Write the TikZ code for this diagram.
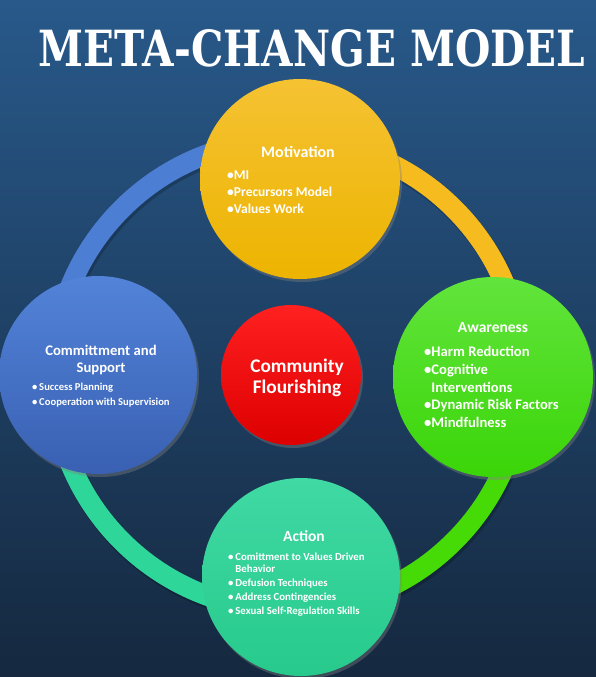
\documentclass[tikz,border=0pt]{standalone}
\usepackage{fontspec}
\usepackage{graphicx}
\setmainfont{Carlito}
\newfontfamily\titlefamily{DejaVu Serif}
\usetikzlibrary{positioning,shadows,calc}
\definecolor{bgtop}{HTML}{28598A}
\definecolor{bgbottom}{HTML}{15283F}
\definecolor{motivtop}{HTML}{F5C233}
\definecolor{motivbottom}{HTML}{EDB400}
\definecolor{awaretop}{HTML}{62E43C}
\definecolor{awarebottom}{HTML}{3AD508}
\definecolor{committop}{HTML}{5283D8}
\definecolor{commitbottom}{HTML}{3960B2}
\definecolor{actiontop}{HTML}{40D9A4}
\definecolor{actionbottom}{HTML}{27CA8C}
\definecolor{hubtop}{HTML}{FF2020}
\definecolor{hubbottom}{HTML}{DD0000}
\definecolor{ringblue}{HTML}{4C7ED3}
\definecolor{ringyellow}{HTML}{F6BC1F}
\definecolor{ringgreen}{HTML}{46DB06}
\definecolor{ringteal}{HTML}{2FD69A}
\tikzset{
  titletext/.style={inner sep=0pt,text=white,font=\titlefamily\bfseries},
  ringarc/.style={draw=#1,line width=20pt},
  ringshade/.style={draw=black,opacity=.2,line width=21pt},
  stagecircle/.style={circle,inner sep=0pt,minimum size=#1,
    drop shadow={shadow xshift=2pt,shadow yshift=-3pt,opacity=.4}},
  stagehead/.style={text=white,font=\fontsize{16}{18}\selectfont\bfseries,
    align=center,inner sep=0pt},
  stagelist/.style={text=white,align=left,inner sep=0pt,anchor=north west},
}

\begin{document}
\begin{tikzpicture}[x=1pt,y=-1pt]
  \useasboundingbox (0,0) rectangle (596,677);
  \fill[top color=bgtop,bottom color=bgbottom] (0,0) rectangle (596,677);

  % title
  \node[titletext] (title) at (312,48.5)
    {\resizebox{546pt}{37pt}{META-CHANGE MODEL}};

  % ring behind the stages
  \coordinate (hub) at (288,375);
  \draw[ringshade] ($(hub)+(1.5,2.5)$) ++(0:235) arc[start angle=0,end angle=-360,radius=235];
  \draw[ringarc=ringblue] (hub) ++(-90:235) arc[start angle=-90,end angle=-180,radius=235];
  \draw[ringarc=ringyellow] (hub) ++(0:235) arc[start angle=0,end angle=-90,radius=235];
  \draw[ringarc=ringgreen] (hub) ++(90:235) arc[start angle=90,end angle=0,radius=235];
  \draw[ringarc=ringteal] (hub) ++(180:235) arc[start angle=180,end angle=90,radius=235];

  % stages
  \node[stagecircle=200pt,top color=motivtop,bottom color=motivbottom] (motiv) at (300,179) {};
  \node[stagecircle=200pt,top color=awaretop,bottom color=awarebottom] (aware) at (493,377) {};
  \node[stagecircle=198pt,top color=committop,bottom color=commitbottom] (commit) at (98,375) {};
  \node[stagecircle=198pt,top color=actiontop,bottom color=actionbottom] (action) at (301,577) {};
  \node[stagecircle=140pt,top color=hubtop,bottom color=hubbottom] (flourish) at (291,375) {};

  % texts
  \node[stagehead] (motivhead) at (298,152) {Motivation};
  \node[stagelist,font=\fontsize{13.5}{17}\selectfont\bfseries] (motivlist) at (227,171)
    {•MI\\•Precursors Model\\•Values Work};

  \node[stagehead,font=\fontsize{15.5}{18}\selectfont\bfseries] (awarehead) at (493,328) {Awareness};
  \node[stagelist,font=\fontsize{14.6}{17.8}\selectfont\bfseries] (awarelist) at (424,346)
    {•Harm Reduction\\•Cognitive\\\hphantom{•}Interventions\\•Dynamic Risk Factors\\•Mindfulness};

  \node[stagehead,font=\fontsize{14.7}{16.5}\selectfont\bfseries] (commithead) at (101,360)
    {Committment and\\Support};
  \node[stagelist,font=\fontsize{10.6}{15}\selectfont\bfseries] (commitlist) at (32,383)
    {•\,Success Planning\\•\,Cooperation with Supervision};

  \node[stagehead,font=\fontsize{15.5}{18}\selectfont\bfseries] (actionhead) at (304,536) {Action};
  \node[stagelist,font=\fontsize{10.8}{11.5}\selectfont\bfseries] (actionlist) at (228,553)
    {•\,Comittment to Values Driven\\\hphantom{•\,}Behavior\\[2.5pt]
     •\,Defusion Techniques\\[2.5pt]•\,Address Contingencies\\[2.5pt]
     •\,Sexual Self-Regulation Skills};

  \node[stagehead,font=\fontsize{19.3}{21}\selectfont\bfseries] (flourishtext) at (297,377.5)
    {Community\\Flourishing};
\end{tikzpicture}
\end{document}
